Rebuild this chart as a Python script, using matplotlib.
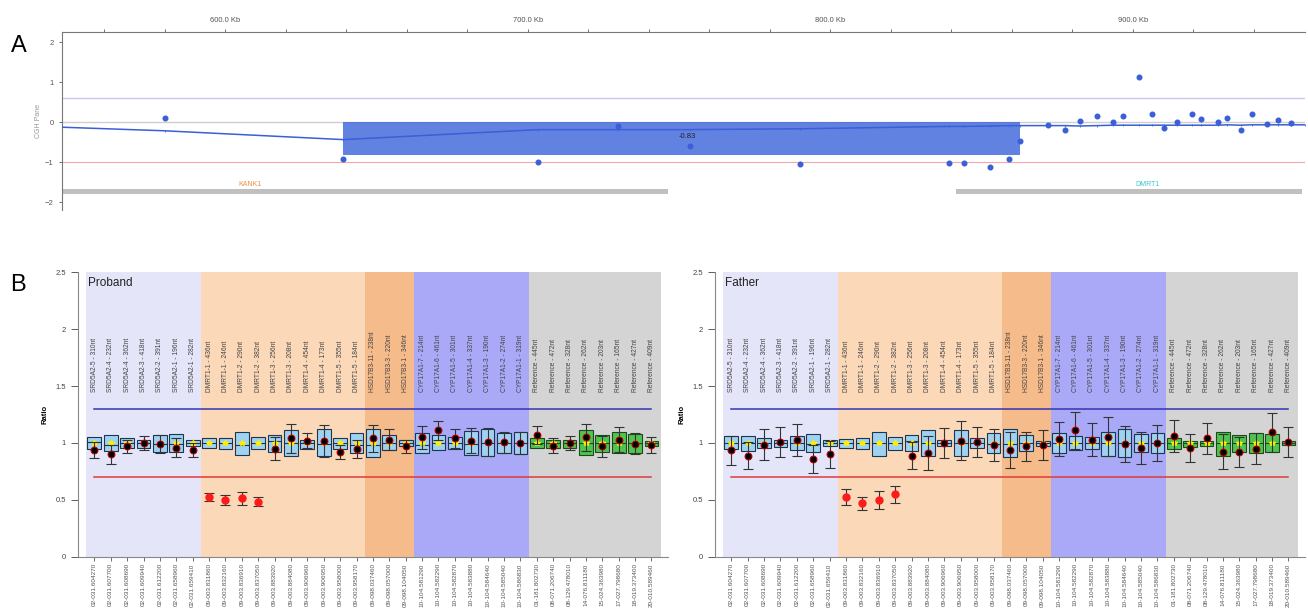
import matplotlib.pyplot as plt
from matplotlib.patches import Rectangle

plt.rcParams['font.family'] = ['Liberation Sans', 'DejaVu Sans']

# ---- panel A: array CGH ----
cgh_pos = [580, 639, 703.5, 729.8, 753.6, 789.9, 839.3, 844.2, 852.9, 859.2, 862.6,
           871.8, 877.5, 882.5, 888.2, 893.5, 896.8, 902.2, 906.3, 910.3, 914.6,
           919.4, 922.5, 928, 931.2, 935.6, 939.3, 944.2, 947.9, 952.2]
cgh_val = [0.09, -0.93, -1.01, -0.09, -0.59, -1.06, -1.03, -1.03, -1.12, -0.93, -0.48,
           -0.08, -0.21, 0.02, 0.16, 0.01, 0.14, 1.12, 0.19, -0.14, -0.01,
           0.19, 0.08, 0.01, 0.11, -0.19, 0.21, -0.06, 0.04, -0.03]
smooth_pos = [546] + cgh_pos + [957]
smooth_val = [-0.13, -0.22, -0.44, -0.19, -0.19, -0.19, -0.17, -0.11, -0.11, -0.10, -0.09, -0.09,
              -0.09, -0.09, -0.10, -0.09, -0.08, -0.08, -0.08, -0.08, -0.08, -0.08,
              -0.08, -0.08, -0.08, -0.07, -0.08, -0.07, -0.07, -0.07, -0.07, -0.07]
seg_start, seg_end, seg_mean = 639, 862.6, -0.83
genes = ['KANK1', 'DMRT1']
gene_start = [546, 841.7]
gene_end = [746.3, 956]
gene_label_pos = [608, 905]
gene_colors = ['#e8903c', '#3cc6d0']

# ---- panel B: MLPA ----
probe_names = ['SRD5A2-5 - 310nt', 'SRD5A2-4 - 232nt', 'SRD5A2-4 - 362nt', 'SRD5A2-3 - 418nt',
               'SRD5A2-2 - 391nt', 'SRD5A2-1 - 196nt', 'SRD5A2-1 - 282nt',
               'DMRT1-1 - 436nt', 'DMRT1-1 - 246nt', 'DMRT1-2 - 290nt', 'DMRT1-2 - 382nt',
               'DMRT1-3 - 256nt', 'DMRT1-3 - 208nt', 'DMRT1-4 - 454nt', 'DMRT1-4 - 173nt',
               'DMRT1-5 - 355nt', 'DMRT1-5 - 184nt',
               'HSD17B3-11 - 238nt', 'HSD17B3-3 - 220nt', 'HSD17B3-1 - 346nt',
               'CYP17A1-7 - 214nt', 'CYP17A1-6 - 461nt', 'CYP17A1-5 - 301nt', 'CYP17A1-4 - 337nt',
               'CYP17A1-3 - 190nt', 'CYP17A1-2 - 274nt', 'CYP17A1-1 - 319nt',
               'Reference - 445nt', 'Reference - 472nt', 'Reference - 328nt', 'Reference - 262nt',
               'Reference - 203nt', 'Reference - 165nt', 'Reference - 427nt', 'Reference - 409nt']
probe_loc = ['02-031.604270', '02-031.607700', '02-031.608690', '02-031.609940', '02-031.612200',
             '02-031.658960', '02-031.659410', '09-003.831860', '09-003.832160', '09-003.836910',
             '09-003.837050', '09-003.883920', '09-003.884080', '09-003.906960', '09-003.906950',
             '09-003.958000', '09-003.958170', '09-098.037460', '09-098.057000', '09-098.104050',
             '10-104.581290', '10-104.582290', '10-104.582870', '10-104.583880', '10-104.584640',
             '10-104.585040', '10-104.586830', '01-181.802730', '08-071.206740', '08-129.478010',
             '14-076.811180', '15-024.363980', '17-027.798680', '18-019.373400', '20-010.589460']
group_sizes = [7, 10, 3, 7, 8]
group_colors = ['#e5e5fa', '#fbd8b8', '#f6bb8a', '#a9a9f8', '#d4d4d4']

proband_box_hi = [1.05, 1.07, 1.04, 1.03, 1.07, 1.075, 1.03, 1.04, 1.045, 1.10, 1.05, 1.07, 1.11, 1.03,
                  1.12, 1.04, 1.09, 1.125, 1.07, 1.03, 1.09, 1.07, 1.05, 1.105, 1.125, 1.09, 1.10,
                  1.04, 1.03, 1.03, 1.11, 1.07, 1.095, 1.08, 1.02]
proband_box_lo = [0.95, 0.93, 0.96, 0.96, 0.925, 0.92, 0.97, 0.955, 0.95, 0.895, 0.95, 0.925, 0.89, 0.95,
                  0.89, 0.95, 0.91, 0.88, 0.935, 0.97, 0.91, 0.935, 0.95, 0.895, 0.885, 0.91, 0.90,
                  0.955, 0.96, 0.96, 0.895, 0.92, 0.91, 0.91, 0.975]
proband_median = [1.005, 0.985, 1.0, 1.0, 0.99, 0.99, 1.0, 1.0, 1.0, 0.98, 1.0, 1.02, 1.0, 1.0, 0.99, 1.0,
                  0.98, 0.98, 1.0, 1.0, 0.98, 1.0, 1.0, 0.99, 1.0, 1.0, 1.0, 1.0, 1.0, 1.0, 1.0, 1.0,
                  1.0, 1.0, 1.0]
proband_ratio = [0.94, 0.90, 0.97, 1.00, 0.99, 0.96, 0.94, 0.53, 0.50, 0.515, 0.485, 0.95, 1.04, 1.02,
                 1.02, 0.92, 0.95, 1.04, 1.03, 0.97, 1.05, 1.11, 1.04, 1.02, 1.01, 1.005, 1.0,
                 1.07, 0.975, 1.0, 1.05, 0.97, 1.03, 0.995, 0.985]
proband_err = [0.07, 0.08, 0.06, 0.065, 0.08, 0.08, 0.06, 0.035, 0.04, 0.055, 0.04, 0.1, 0.13, 0.065,
               0.14, 0.06, 0.08, 0.12, 0.09, 0.06, 0.1, 0.08, 0.08, 0.11, 0.12, 0.09, 0.1,
               0.08, 0.065, 0.065, 0.12, 0.095, 0.11, 0.09, 0.07]

father_box_hi = [1.06, 1.06, 1.04, 1.03, 1.06, 1.075, 1.03, 1.035, 1.045, 1.10, 1.05, 1.07, 1.11, 1.025,
                 1.115, 1.04, 1.09, 1.12, 1.07, 1.02, 1.09, 1.06, 1.05, 1.10, 1.12, 1.075, 1.09,
                 1.04, 1.02, 1.02, 1.10, 1.07, 1.09, 1.08, 1.02]
father_box_lo = [0.95, 0.93, 0.955, 0.965, 0.94, 0.925, 0.97, 0.955, 0.95, 0.89, 0.94, 0.93, 0.89, 0.975,
                 0.885, 0.955, 0.91, 0.88, 0.93, 0.97, 0.91, 0.94, 0.95, 0.89, 0.88, 0.92, 0.91,
                 0.95, 0.965, 0.97, 0.89, 0.92, 0.915, 0.92, 0.98]
father_median = [1.0, 1.0, 1.0, 1.0, 1.0, 0.99, 1.0, 1.0, 1.0, 1.0, 1.0, 1.02, 1.0, 1.0, 1.0, 1.0,
                 0.99, 0.99, 1.0, 1.0, 1.0, 1.0, 1.0, 1.0, 1.0, 1.0, 1.0, 1.0, 1.0, 1.0, 1.0, 1.0,
                 1.0, 1.0, 1.0]
father_ratio = [0.936, 0.89, 0.985, 1.01, 1.03, 0.86, 0.90, 0.53, 0.47, 0.50, 0.55, 0.89, 0.91, 1.0,
                1.02, 1.01, 0.98, 0.94, 0.97, 0.98, 1.035, 1.11, 1.03, 1.055, 0.99, 0.96, 1.0,
                1.06, 0.955, 1.04, 0.925, 0.92, 0.95, 1.095, 1.01]
father_err = [0.125, 0.12, 0.135, 0.13, 0.14, 0.12, 0.12, 0.07, 0.06, 0.08, 0.075, 0.12, 0.15, 0.13,
              0.17, 0.13, 0.14, 0.155, 0.13, 0.13, 0.15, 0.16, 0.145, 0.17, 0.16, 0.14, 0.16,
              0.14, 0.125, 0.135, 0.15, 0.13, 0.135, 0.17, 0.13]

upper_limit, lower_limit = 1.3, 0.7

fig = plt.figure(figsize=(13.08, 6.11), dpi=100)

# ---------------- Panel A ----------------
axa = fig.add_axes([0.0474, 0.6563, 0.9505, 0.2913])
axa.set_xlim(546, 957)
axa.set_ylim(-2.2, 2.25)
axa.axhline(0.6, color='#c8c8ee', lw=1)
axa.axhline(0, color='#cfcfcf', lw=1)
axa.axhline(-1, color='#f2a8a8', lw=0.8)
axa.add_patch(Rectangle((seg_start, seg_mean), seg_end - seg_start, -seg_mean,
                        facecolor='#3f66dc', alpha=0.82, edgecolor='none', zorder=2))
axa.text((seg_start + seg_end) / 2 + 2, -0.36, '%.2f' % seg_mean, fontsize=5.5, color='#222222',
         ha='center', va='center', zorder=4)
axa.plot(smooth_pos, smooth_val, color='#3a5fd6', lw=1.1, marker='|', ms=2, mew=0.6, zorder=3)
axa.scatter(cgh_pos, cgh_val, s=11, color='#3a5fd6', zorder=4)
for g, s, e, lp, c in zip(genes, gene_start, gene_end, gene_label_pos, gene_colors):
    axa.barh(-1.73, e - s, left=s, height=0.13, color='#c0c0c0', zorder=2)
    axa.text(lp, -1.57, g, fontsize=5, color=c, ha='center', va='center')
axa.xaxis.tick_top()
axa.set_xticks(range(560, 957, 20))
axa.set_xticklabels(['%.1f Kb' % t if t % 100 == 0 else '' for t in range(560, 957, 20)])
axa.set_yticks([-2, -1, 0, 1, 2])
axa.tick_params(labelsize=5.5, colors='#555555', length=2.5, width=0.6)
axa.set_ylabel('CGH Pane', fontsize=5, color='#999999', labelpad=2)
for side in ['right', 'bottom']:
    axa.spines[side].set_visible(False)
for side in ['left', 'top']:
    axa.spines[side].set_color('#777777')
    axa.spines[side].set_linewidth(0.8)

fig.text(0.008, 0.925, 'A', fontsize=17, va='center')
fig.text(0.008, 0.534, 'B', fontsize=17, va='center')


# ---------------- Panel B ----------------
def mlpa_panel(ax, title, box_lo, box_hi, median, ratio, err):
    n = len(probe_names)
    start = -0.5
    for size, col in zip(group_sizes, group_colors):
        end = start + size
        if end > n - 1:
            end = n - 0.4
        ax.add_patch(Rectangle((start, 0), end - start, 2.5, facecolor=col, edgecolor='none', zorder=0))
        start += size
    ax.plot([0, n - 1], [upper_limit, upper_limit], color='#3434b4', lw=1.1, zorder=1)
    ax.plot([0, n - 1], [lower_limit, lower_limit], color='#e23a3a', lw=1.1, zorder=1)
    for i in range(n):
        fc = '#9fd2f2' if i < 27 else '#4fc450'
        ec = '#1e3550' if i < 27 else '#1d4a1d'
        ax.add_patch(Rectangle((i - 0.42, box_lo[i]), 0.84, box_hi[i] - box_lo[i],
                               facecolor=fc, edgecolor=ec, lw=0.8, zorder=2))
        ax.plot([i - 0.42, i + 0.42], [median[i], median[i]], color=ec, lw=0.8, zorder=2)
        ax.text(i, 1.45, probe_names[i], rotation=90, fontsize=4.8, color='#444444',
                ha='center', va='bottom')
    ax.plot(range(n), [1.0] * n, ls='none', marker='*', ms=4, color='#ffee00', zorder=3)
    ax.errorbar(range(n), ratio, yerr=err, fmt='none', ecolor='#333333', elinewidth=0.8,
                capsize=3.5, capthick=0.8, zorder=4)
    for i in range(n):
        if ratio[i] < lower_limit:
            ax.plot(i, ratio[i], 'o', ms=5, color='#ff1a1a', mec='#ff1a1a', zorder=5)
        else:
            ax.plot(i, ratio[i], 'o', ms=5, color='black', mec='#cc0000', mew=0.7, zorder=5)
    ax.text(-0.4, 2.4, title, fontsize=8.5, va='center', color='#222222')
    ax.set_xlim(-1, 35)
    ax.set_ylim(0, 2.5)
    ax.set_xticks(range(n))
    ax.set_xticklabels(probe_loc, rotation=90, fontsize=4.6, color='#333333')
    ax.set_yticks([0, 0.5, 1, 1.5, 2, 2.5])
    ax.set_yticklabels(['0', '0.5', '1', '1.5', '2', '2.5'])
    ax.tick_params(axis='y', labelsize=5.5, colors='#444444', length=5, width=0.6)
    ax.tick_params(axis='x', length=3, width=0.6, colors='#555555', pad=1.5)
    ax.set_ylabel('Ratio', fontsize=5.5, fontweight='bold', labelpad=5)
    for side in ['right', 'top']:
        ax.spines[side].set_visible(False)
    for side in ['left', 'bottom']:
        ax.spines[side].set_color('#888888')
        ax.spines[side].set_linewidth(0.8)


ax1 = fig.add_axes([0.0596, 0.0884, 0.451, 0.4664])
mlpa_panel(ax1, 'Proband', proband_box_lo, proband_box_hi, proband_median, proband_ratio, proband_err)
ax2 = fig.add_axes([0.5466, 0.0884, 0.451, 0.4664])
mlpa_panel(ax2, 'Father', father_box_lo, father_box_hi, father_median, father_ratio, father_err)

fig.savefig('out.png', dpi=100)
